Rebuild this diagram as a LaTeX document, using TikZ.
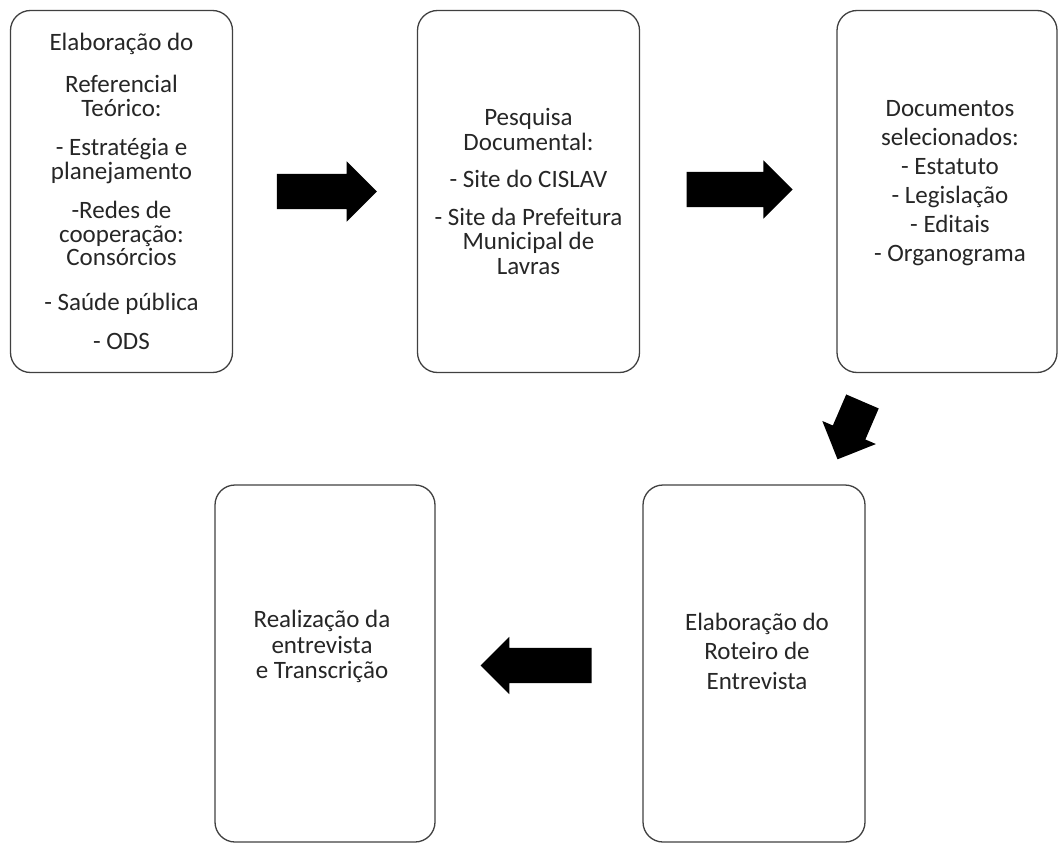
\documentclass[tikz,border=0pt]{standalone}
\usepackage{fontspec}
\setmainfont{Carlito}
\usetikzlibrary{positioning,calc,shapes.arrows}

\begin{document}
\begin{tikzpicture}[
  x=1pt, y=-1pt,
  stage/.style={draw=black!75, line width=1.3pt, rounded corners=20pt,
                minimum width=222pt, minimum height=362pt, inner sep=0pt},
  stagetext/.style={align=center, text=black!85, inner sep=0pt,
                    font=\fontsize{25}{23.5}\selectfont},
  blockarrow/.style={single arrow, fill=black, draw=none,
                     inner xsep=0pt, inner ysep=17.5pt, minimum height=100pt,
                     single arrow head extend=12.5pt},
]
\useasboundingbox (0,0) rectangle (1058,843);

% Top row
\node[stage] (b1) at (121.5, 191.5) {};
\node[stagetext] (t1) at (b1.center)
  {Elaboração do\\[19pt]
   Referencial\\ Teórico:\\[16pt]
   - Estratégia e\\ planejamento\\[16pt]
   -Redes de\\ cooperação:\\ Consórcios\\[21pt]
   - Saúde pública\\[16pt]
   - ODS};

\node[stage] (b2) at (528.5, 191.5) {};
\node[stagetext, font=\fontsize{25}{24.5}\selectfont] (t2) at (b2.center)
  {Pesquisa\\ Documental:\\[13pt]
   - Site do CISLAV\\[13pt]
   - Site da Prefeitura\\ Municipal de\\ Lavras};

\node[stage, minimum width=220pt] (b3) at (947, 191.5) {};
\node[stagetext, font=\fontsize{25}{29}\selectfont] (t3) at ([shift={(3pt,8pt)}]b3.center)
  {Documentos\\ selecionados:\\ - Estatuto\\ - Legislação\\ - Editais\\ - Organograma};

% Bottom row
\node[stage, minimum height=357pt] (b4) at (754, 663.5) {};
\node[stagetext, font=\fontsize{25}{29.5}\selectfont] (t4) at ([shift={(3pt,12.5pt)}]b4.center)
  {Elaboração do\\ Roteiro de\\ Entrevista};

\node[stage, minimum width=220pt, minimum height=357pt] (b5) at (325, 663.5) {};
\node[stagetext, font=\fontsize{25}{25.5}\selectfont] (t5) at ([shift={(-3pt,17pt)}]b5.center)
  {Realização da\\ entrevista\\ e Transcrição};

% Block arrows
\node[blockarrow] (a1) at ([xshift=-7pt]$(b1.east)!0.5!(b2.west)$) {};
\node[blockarrow, minimum height=106pt, single arrow head extend=11.5pt]
  (a2) at ([xshift=-7.5pt,yshift=2pt]$(b2.east)!0.5!(b3.west)$) {};
\node[blockarrow, minimum height=63pt, single arrow head extend=11.5pt,
      rotate=246.7] (a3) at ([xshift=3pt,yshift=6.5pt]$(b3.south)!0.5!(b4.north)$) {};
\node[blockarrow, minimum height=111pt, single arrow head extend=11pt,
      rotate=180] (a4) at ([xshift=6pt,yshift=-2pt]$(b4.west)!0.5!(b5.east)$) {};
\end{tikzpicture}
\end{document}
